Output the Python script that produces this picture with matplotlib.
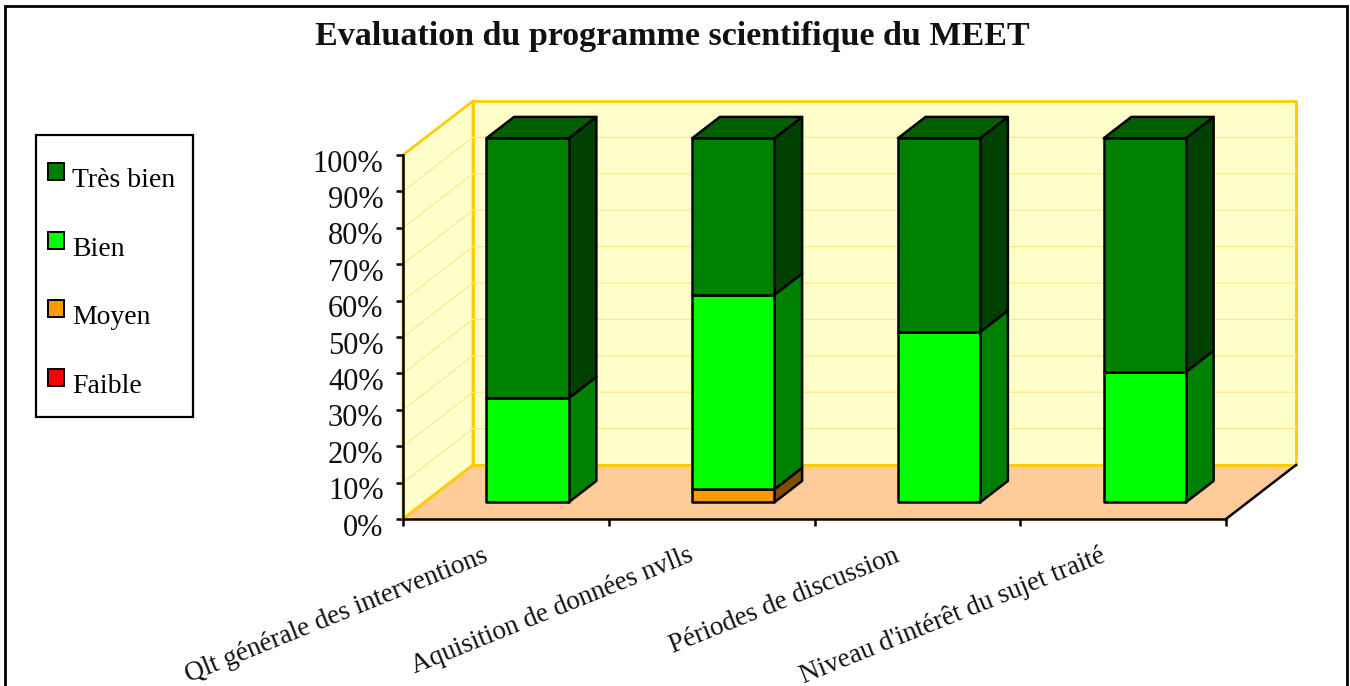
"""Evaluation du programme scientifique du MEET - barres empilees facon 3D"""

import matplotlib
matplotlib.use("Agg")
import matplotlib.pyplot as plt
from matplotlib.patches import Patch, Polygon, Rectangle
from matplotlib.transforms import ScaledTranslation

categories = [
    "Qlt générale des interventions",
    "Aquisition de données nvlls",
    "Périodes de discussion",
    "Niveau d'intérêt du sujet traité",
]
faible = [0, 0, 0, 0]
moyen = [0, 3.6, 0, 0]
bien = [28.6, 53.4, 46.8, 35.8]
tres_bien = [71.4, 43.0, 53.2, 64.2]

series_names = ["Faible", "Moyen", "Bien", "Très bien"]
series_values = [faible, moyen, bien, tres_bien]
front_colors = ["#FF0000", "#FF9900", "#00FF00", "#008000"]
side_colors = ["#800000", "#804D00", "#008000", "#004000"]
top_colors = ["#990000", "#995C00", "#009900", "#005F00"]

title = "Evaluation du programme scientifique du MEET"
y_ticks = [0, 10, 20, 30, 40, 50, 60, 70, 80, 90, 100]

WIDTH, HEIGHT = 1350, 686
LEFT, RIGHT, BOTTOM, TOP = 403, 1226, 519, 155
# decalage du fond du graphe, converti en unites de donnees
DEPTH_X = 70 / ((RIGHT - LEFT) / 4)
DEPTH_Y = 54 / ((BOTTOM - TOP) / 100)
BAR_WIDTH = 0.40
BAR_D0, BAR_D1 = 0.31, 0.705
SERIF = "Liberation Serif"
GOLD = "#FFCC00"


def proj(x_val, y_val, depth):
    """Position a l'ecran d'un point (categorie, valeur, profondeur)"""
    return (x_val + depth * DEPTH_X, y_val + depth * DEPTH_Y)


def face(axe, points, color, zorder, edge="black", width=1.8):
    """Ajoute une face du decor ou d'une barre"""
    axe.add_patch(Polygon(points, closed=True, facecolor=color, edgecolor=edge,
                          linewidth=width, joinstyle="round", clip_on=False,
                          zorder=zorder))


def draw_walls(axe):
    """Murs, sol et quadrillage"""
    face(axe, [proj(0, 0, 1), proj(4, 0, 1), proj(4, 100, 1), proj(0, 100, 1)],
         "#FFFFCC", 1, GOLD, 2)
    face(axe, [proj(0, 0, 0), proj(0, 0, 1), proj(0, 100, 1), proj(0, 100, 0)],
         "#FFFFCC", 1, GOLD, 2)
    for val in y_ticks[1:-1]:
        xs, ys = zip(proj(0, val, 0), proj(0, val, 1), proj(4, val, 1))
        axe.plot(xs, ys, color="#FFE680", lw=0.8, zorder=1.5, clip_on=False)
    face(axe, [proj(0, 0, 0), proj(4, 0, 0), proj(4, 0, 1), proj(0, 0, 1)],
         "#FFCC99", 2, "none", 0)
    xs, ys = zip(proj(0, 0, 1), proj(4, 0, 1))
    axe.plot(xs, ys, color=GOLD, lw=2, zorder=2.1, clip_on=False)
    xs, ys = zip(proj(0, 0, 0), proj(0, 0, 1))
    axe.plot(xs, ys, color=GOLD, lw=2, zorder=2.1, clip_on=False)
    xs, ys = zip(proj(4, 0, 0), proj(4, 0, 1))
    axe.plot(xs, ys, color="black", lw=1.8, zorder=2.2, clip_on=False)


def draw_bars(axe):
    """Barres empilees avec faces avant, cote et dessus"""
    for idx in range(len(categories)):
        left = idx + 0.5 - BAR_WIDTH / 2
        right = idx + 0.5 + BAR_WIDTH / 2
        base = 0
        last = max(k for k, vals in enumerate(series_values) if vals[idx] > 0)
        for k, vals in enumerate(series_values):
            val = vals[idx]
            if val <= 0:
                continue
            high = base + val
            face(axe, [proj(right, base, BAR_D0), proj(right, base, BAR_D1),
                       proj(right, high, BAR_D1), proj(right, high, BAR_D0)],
                 side_colors[k], 3 + idx)
            face(axe, [proj(left, base, BAR_D0), proj(right, base, BAR_D0),
                       proj(right, high, BAR_D0), proj(left, high, BAR_D0)],
                 front_colors[k], 3 + idx)
            if k == last:
                face(axe, [proj(left, high, BAR_D0), proj(right, high, BAR_D0),
                           proj(right, high, BAR_D1), proj(left, high, BAR_D1)],
                     top_colors[k], 3 + idx)
            base = high


def main():
    """Construit la figure et sauve out.png"""
    fig = plt.figure(figsize=(WIDTH / 100, HEIGHT / 100), dpi=100)
    axe = fig.add_axes([LEFT / WIDTH, 1 - BOTTOM / HEIGHT,
                        (RIGHT - LEFT) / WIDTH, (BOTTOM - TOP) / HEIGHT])
    axe.patch.set_visible(False)
    axe.set_xlim(0, 4)
    axe.set_ylim(0, 100)

    fig.add_artist(Rectangle((5 / WIDTH, -0.02), 1342 / WIDTH, 1.02 - 6 / HEIGHT,
                             transform=fig.transFigure, facecolor="none",
                             edgecolor="black", linewidth=2))
    # cadre de la legende, trace a part pour regler les marges
    fig.add_artist(Rectangle((36 / WIDTH, 1 - 417 / HEIGHT), 157 / WIDTH, 282 / HEIGHT,
                             transform=fig.transFigure, facecolor="white",
                             edgecolor="black", linewidth=1.6))

    draw_walls(axe)
    draw_bars(axe)

    for side in ("top", "right"):
        axe.spines[side].set_visible(False)
    for side in ("left", "bottom"):
        axe.spines[side].set_linewidth(1.8)
        axe.spines[side].set_zorder(2.5)

    axe.set_xticks(range(5))
    axe.set_xticklabels([])
    axe.set_yticks(y_ticks)
    axe.set_yticklabels(["{}%".format(val) for val in y_ticks],
                        family=SERIF, fontsize=22, color="#111111")
    axe.tick_params(axis="both", length=5, width=1.8)
    axe.tick_params(axis="y", pad=9)
    shift = ScaledTranslation(0, -5.5 / 100, fig.dpi_scale_trans)
    for label in axe.get_yticklabels():
        label.set_transform(label.get_transform() + shift)

    for idx, name in enumerate(categories):
        axe.annotate(name, xy=(idx + 0.5, 0), xytext=(-12, -30),
                     textcoords="offset points", ha="right", va="baseline",
                     rotation=22, rotation_mode="anchor", family=SERIF,
                     fontsize=19.5, color="#111111", annotation_clip=False)

    fig.text(672 / WIDTH, 1 - 45 / HEIGHT, title, ha="center", va="baseline",
             family=SERIF, fontweight="bold", fontsize=24.5, color="#111111")

    handles = [Patch(facecolor=front_colors[k], edgecolor="black", linewidth=1.4,
                     label=series_names[k]) for k in range(3, -1, -1)]
    leg = fig.legend(handles=handles, loc="upper left",
                     bbox_to_anchor=(48 / WIDTH, 1 - 168 / HEIGHT),
                     borderaxespad=0, borderpad=0, frameon=False,
                     prop={"family": SERIF, "size": 20},
                     labelspacing=1.57, handlelength=0.58, handleheight=0.55,
                     handletextpad=0.29)
    for patch in leg.get_patches():
        patch.set_y(patch.get_y() + 4)

    fig.savefig("out.png", dpi=100)


if __name__ == "__main__":
    main()
